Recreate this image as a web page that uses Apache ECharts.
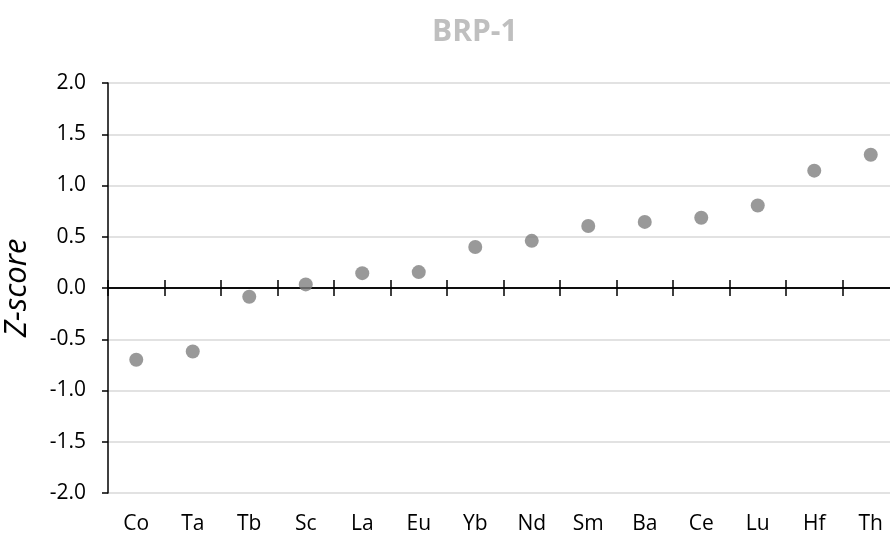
<!DOCTYPE html>
<html>
<head>
<meta charset="utf-8">
<script src="https://cdn.jsdelivr.net/npm/echarts@6/dist/echarts.min.js"></script>
<style>
  html, body { margin: 0; padding: 0; background: #fff; }
  #chart { width: 890px; height: 536px; }
</style>
</head>
<body>
<div id="chart"></div>
<script>
// Elements on the x axis, ordered by Z-score
const elements = ['Co', 'Ta', 'Tb', 'Sc', 'La', 'Eu', 'Yb', 'Nd', 'Sm', 'Ba', 'Ce', 'Lu', 'Hf', 'Th'];
// Z-score of each element for reference material BRP-1
const zScores = [-0.70, -0.62, -0.085, 0.035, 0.145, 0.155, 0.40, 0.46, 0.605, 0.645, 0.685, 0.805, 1.145, 1.30];

const FONT = '"Open Sans", "DejaVu Sans", sans-serif';

const chart = echarts.init(document.getElementById('chart'), null, { renderer: 'canvas' });

const catBase = {
  type: 'category',
  data: elements,
  boundaryGap: true,
  splitLine: { show: false }
};
const tickStyle = { color: '#000', width: 1.5 };
const yRange = { type: 'value', min: -2, max: 2, interval: 0.5 };

chart.setOption({
  animation: false,
  backgroundColor: '#ffffff',
  title: {
    text: 'BRP-1',
    left: 427,
    top: 12,
    textStyle: { fontFamily: FONT, fontSize: 30, fontWeight: 'bold', color: '#bfbfbf' }
  },
  grid: { left: 108, right: -9, top: 83, bottom: 43, containLabel: false, outerBoundsMode: 'none' },
  xAxis: [
    // element names along the bottom edge of the plot
    Object.assign({}, catBase, {
      position: 'bottom',
      axisLine: { show: false, onZero: false },
      axisTick: { show: false },
      axisLabel: { show: true, margin: 21, fontFamily: FONT, fontSize: 21, color: '#000' }
    }),
    // zero line, ticks pointing down
    Object.assign({}, catBase, {
      position: 'top',
      axisLine: { show: true, onZero: true, onZeroAxisIndex: 0, lineStyle: { color: '#000', width: 1.5 } },
      axisTick: { show: true, inside: true, length: 8, lineStyle: tickStyle },
      axisLabel: { show: false }
    }),
    // zero line, ticks pointing up (anchored on the twin value axis)
    Object.assign({}, catBase, {
      position: 'bottom',
      axisLine: { show: true, onZero: true, onZeroAxisIndex: 1, lineStyle: { color: '#000', width: 1.5 } },
      axisTick: { show: true, inside: true, length: 8, lineStyle: tickStyle },
      axisLabel: { show: false }
    })
  ],
  yAxis: [
    Object.assign({}, yRange, {
      position: 'left',
      name: 'Z-score',
      nameLocation: 'middle',
      nameGap: 75,
      nameTextStyle: { fontFamily: FONT, fontSize: 31, fontStyle: 'italic', color: '#000' },
      axisLine: { show: true, onZero: false, lineStyle: { color: '#000', width: 1.5 } },
      axisTick: { show: true, length: 6, lineStyle: tickStyle },
      axisLabel: {
        margin: 22,
        fontFamily: FONT,
        fontSize: 21,
        color: '#000',
        formatter: v => v.toFixed(1)
      },
      splitLine: { show: true, lineStyle: { color: '#d9d9d9', width: 1.5 } }
    }),
    // invisible twin scale, only used to hold the second zero line
    Object.assign({}, yRange, {
      position: 'right',
      axisLine: { show: false, onZero: false },
      axisTick: { show: false },
      axisLabel: { show: false },
      splitLine: { show: false }
    })
  ],
  series: [{
    type: 'scatter',
    xAxisIndex: 0,
    yAxisIndex: 0,
    data: zScores,
    symbol: 'circle',
    symbolSize: 14,
    itemStyle: { color: '#7f7f7f' }
  }]
});
</script>
</body>
</html>
